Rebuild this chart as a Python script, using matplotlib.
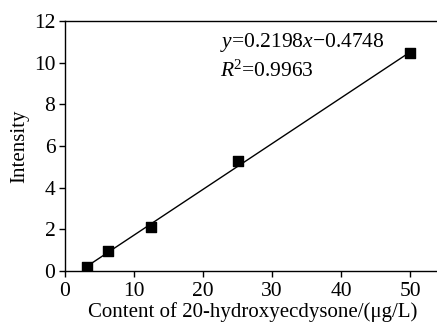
import matplotlib
matplotlib.use("Agg")
import matplotlib.pyplot as plt
import numpy as np

conc = [3.125, 6.25, 12.5, 25, 50]
intensity = [0.2, 0.95, 2.1, 5.3, 10.45]
slope = 0.2198
intercept = -0.4748
x_ticks = [0, 10, 20, 30, 40, 50]
y_ticks = [0, 2, 4, 6, 8, 10, 12]

plt.rcParams['font.family'] = ['Liberation Serif', 'DejaVu Serif']
plt.rcParams['mathtext.fontset'] = 'custom'
plt.rcParams['mathtext.rm'] = 'Liberation Serif'
plt.rcParams['mathtext.it'] = 'Liberation Serif:italic'

fig = plt.figure(figsize=(4.37, 3.27), dpi=100)
ax = fig.add_axes([65/437, 1-271/327, (437-65)/437 + 0.01, (271-21)/327])

ax.scatter(conc, intensity, marker='s', s=42, color='black', zorder=3)
xl = np.array([conc[0], conc[-1]])
ax.plot(xl, slope*xl + intercept, color='black', lw=1)

ax.set_xlim(0, 54.5)
ax.set_ylim(0, 12)
ax.set_xticks(x_ticks)
ax.set_yticks(y_ticks)
ax.tick_params(direction='out', length=4, width=1, labelsize=15.5)
ax.tick_params(axis='x', pad=4)
ax.tick_params(axis='y', pad=3)
for s in ax.spines.values():
    s.set_linewidth(1)

ax.set_xlabel('Content of 20-hydroxyecdysone/(μg/L)', fontsize=15, labelpad=1)
ax.set_ylabel('Intensity', fontsize=15, labelpad=3)

ax.text(22.5, 10.75, '$y$=%.4f$x$\u2212%.4f' % (slope, -intercept), fontsize=15.5)
ax.text(22.5, 9.3, '$R$$^2$=0.9963', fontsize=15.5)

fig.savefig('out.png', dpi=100)
